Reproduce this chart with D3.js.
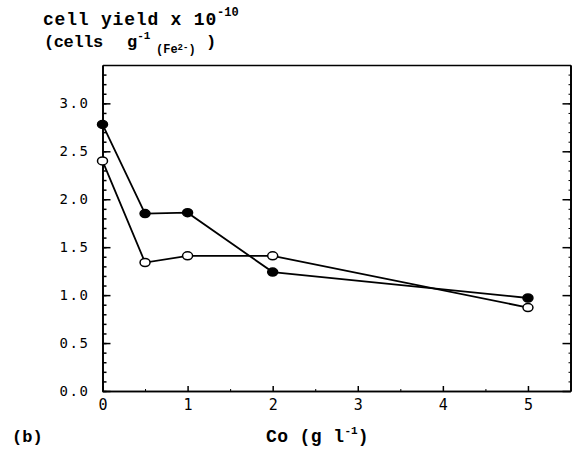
<!DOCTYPE html>
<html>
<head>
<meta charset="utf-8">
<script src="https://cdn.jsdelivr.net/npm/d3@7"></script>
<style>
  html, body { margin: 0; padding: 0; background: #fff; }
  svg text { fill: #000; }
</style>
</head>
<body>
<svg id="chart" width="572" height="452"></svg>
<script>
// Cobalt concentration (g l-1)
const cobalt = [0, 0.5, 1, 2, 5];
// Cell yield x 10^-10 (cells per g Fe2+)
const yieldFilled = [2.78, 1.85, 1.86, 1.24, 0.97];
const yieldOpen = [2.40, 1.34, 1.41, 1.41, 0.87];
// Axis ticks
const xTicks = [0, 1, 2, 3, 4, 5];
const xHalfTicks = [0.5, 1.5, 2.5, 3.5, 4.5];
const yTicks = [0, 0.5, 1, 1.5, 2, 2.5, 3];
const yMinorTicks = d3.range(0, 34).map(i => i / 10);

const svg = d3.select("#chart");
const plotLeft = 102.5, plotRight = 570.5, plotTop = 65, plotBottom = 391;

const x = d3.scaleLinear().domain([0, 5.5]).range([plotLeft, plotRight]);
const y = d3.scaleLinear().domain([0, 3.4]).range([plotBottom, plotTop]);

const tickFont = "'DejaVu Sans Mono', monospace";
const titleFont = "'Liberation Mono', 'DejaVu Sans Mono', monospace";

function styleAxis(g) {
  g.selectAll("path.domain").attr("stroke", "#000").attr("stroke-width", 1.7);
  g.selectAll(".tick line").attr("stroke", "#000").attr("stroke-width", 1.5);
}

// Left axis: major ticks with labels, minor ticks every 0.1
const gLeft = svg.append("g").attr("transform", `translate(${plotLeft},0)`)
  .call(d3.axisLeft(y).tickValues(yTicks).tickSize(-8).tickPadding(13)
    .tickFormat(d3.format(".1f")).tickSizeOuter(0));
styleAxis(gLeft);
gLeft.selectAll("text").attr("font-family", tickFont).attr("font-size", 14)
  .attr("letter-spacing", 1.6).attr("fill", "#000");
const gLeftMinor = svg.append("g").attr("transform", `translate(${plotLeft},0)`)
  .call(d3.axisLeft(y).tickValues(yMinorTicks).tickSize(-4).tickFormat("").tickSizeOuter(0));
styleAxis(gLeftMinor);

// Right axis: inward ticks, no labels
const gRight = svg.append("g").attr("transform", `translate(${plotRight},0)`)
  .call(d3.axisRight(y).tickValues(yTicks).tickSize(-8).tickFormat("").tickSizeOuter(0));
styleAxis(gRight);
const gRightMinor = svg.append("g").attr("transform", `translate(${plotRight},0)`)
  .call(d3.axisRight(y).tickValues(yMinorTicks).tickSize(-2).tickFormat("").tickSizeOuter(0));
styleAxis(gRightMinor);
gRightMinor.selectAll(".tick line").attr("stroke-width", 1);

// Bottom axis: labelled integer ticks, small half ticks
const gBottom = svg.append("g").attr("transform", `translate(0,${plotBottom})`)
  .call(d3.axisBottom(x).tickValues(xTicks).tickSize(-5).tickPadding(8).tickFormat(d3.format("d")).tickSizeOuter(0));
styleAxis(gBottom);
gBottom.selectAll("text").attr("font-family", tickFont).attr("font-size", 15).attr("fill", "#000");
const gBottomHalf = svg.append("g").attr("transform", `translate(0,${plotBottom})`)
  .call(d3.axisBottom(x).tickValues(xHalfTicks).tickSize(-2).tickFormat("").tickSizeOuter(0));
styleAxis(gBottomHalf);
gBottomHalf.selectAll(".tick line").attr("stroke-width", 1);

// Top frame
const gTop = svg.append("g").attr("transform", `translate(0,${plotTop})`)
  .call(d3.axisTop(x).tickValues([]).tickSizeOuter(0));
styleAxis(gTop);

// Series lines and markers
const line = d3.line().x(d => x(d[0])).y(d => y(d[1]));
const series = [
  { values: yieldFilled, fill: "#000" },
  { values: yieldOpen, fill: "#fff" }
];
series.forEach(s => {
  const pts = cobalt.map((c, i) => [c, s.values[i]]);
  svg.append("path").datum(pts).attr("d", line)
    .attr("fill", "none").attr("stroke", "#000").attr("stroke-width", 1.8);
});
series.forEach(s => {
  const pts = cobalt.map((c, i) => [c, s.values[i]]);
  svg.append("g").selectAll("ellipse").data(pts).join("ellipse")
    .attr("cx", d => x(d[0])).attr("cy", d => y(d[1]))
    .attr("rx", 5).attr("ry", 4)
    .attr("fill", s.fill).attr("stroke", "#000").attr("stroke-width", 1.5);
});

// Y axis title
const t1 = svg.append("text").attr("x", 43).attr("y", 25)
  .attr("font-family", titleFont).attr("font-size", 18).attr("font-weight", "bold");
t1.append("tspan").attr("letter-spacing", 0.8).text("cell yield x 10");
t1.append("tspan").attr("font-size", 12).attr("dy", -9).text("-10");

const t2 = svg.append("g").attr("font-family", titleFont).attr("font-weight", "bold");
t2.append("text").attr("x", 44).attr("y", 47).attr("font-size", 17).attr("letter-spacing", -0.4).text("(cells");
const g2 = t2.append("text").attr("x", 127).attr("y", 47).attr("font-size", 17);
g2.append("tspan").text("g");
g2.append("tspan").attr("font-size", 11).attr("dy", -8).text("-1");
const sub = t2.append("text").attr("x", 156).attr("y", 53).attr("font-size", 12);
sub.append("tspan").text("(Fe");
sub.append("tspan").attr("font-size", 9).attr("dy", -3).text("2-");
sub.append("tspan").attr("dy", 3).text(")");
t2.append("text").attr("x", 206).attr("y", 47).attr("font-size", 17).text(")");

// X axis title and panel letter
svg.append("text").attr("x", 12).attr("y", 442)
  .attr("font-family", titleFont).attr("font-size", 17).attr("font-weight", "bold").text("(b)");
const xt = svg.append("text").attr("x", 266).attr("y", 442)
  .attr("font-family", titleFont).attr("font-size", 18).attr("font-weight", "bold");
xt.append("tspan").attr("letter-spacing", 0.4).text("Co (g l");
xt.append("tspan").attr("font-size", 11).attr("dy", -8).text("-1");
xt.append("tspan").attr("dy", 8).text(")");
</script>
</body>
</html>
